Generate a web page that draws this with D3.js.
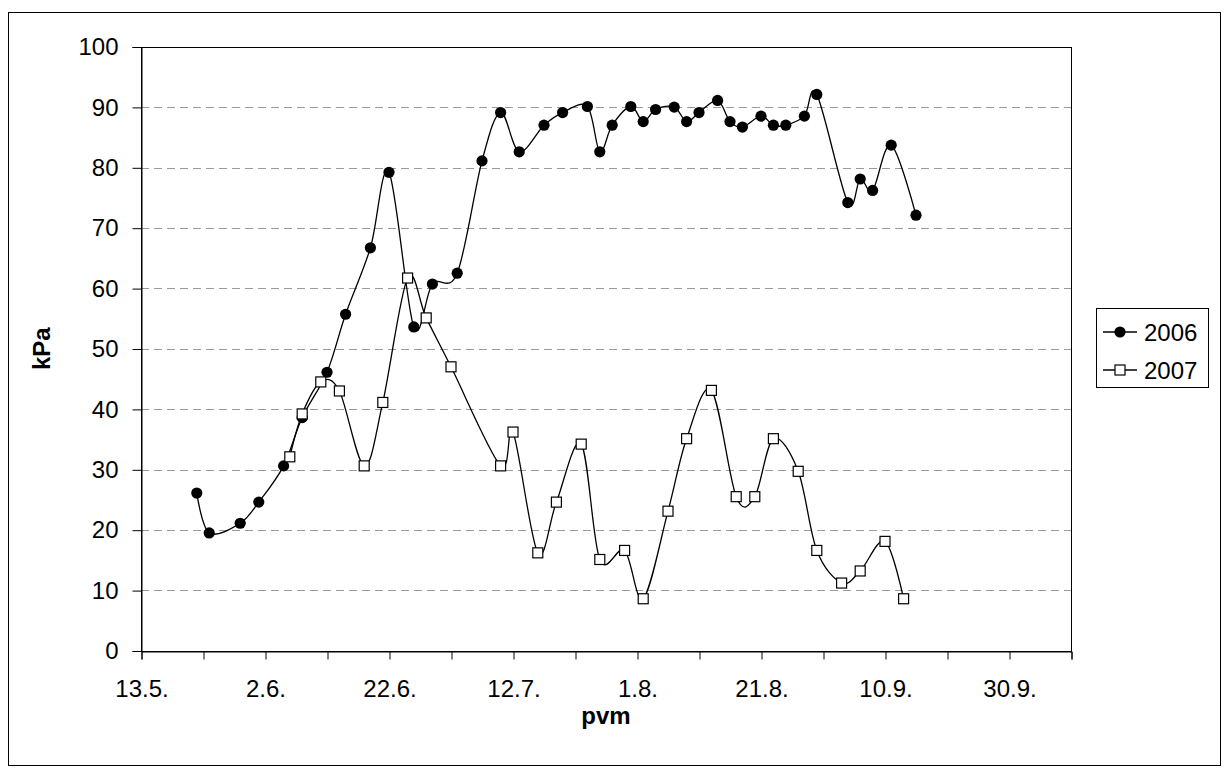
<!DOCTYPE html>
<html>
<head>
<meta charset="utf-8">
<script src="https://cdn.jsdelivr.net/npm/d3@7"></script>
<style>
  html, body { margin: 0; padding: 0; background: #fff; }
  svg { display: block; font-family: "Liberation Sans", Arial, sans-serif; }
</style>
</head>
<body>
<svg id="chart" width="1229" height="772"></svg>
<script>
// Measurement dates (day.month.) and pressure readings, kPa
const dates2006 = ["22.5.","24.5.","29.5.","1.6.","5.6.","8.6.","12.6.","15.6.","19.6.","22.6.",
  "26.6.","29.6.","3.7.","7.7.","10.7.","13.7.","17.7.","20.7.","24.7.","26.7.",
  "28.7.","31.7.","2.8.","4.8.","7.8.","9.8.","11.8.","14.8.","16.8.","18.8.",
  "21.8.","23.8.","25.8.","28.8.","30.8.","4.9.","6.9.","8.9.","11.9.","15.9."];
const values2006 = [26.1, 19.5, 21.1, 24.6, 30.6, 38.6, 46.1, 55.7, 66.7, 79.2,
  53.6, 60.7, 62.5, 81.1, 89.1, 82.6, 87.0, 89.1, 90.1, 82.6,
  87.0, 90.1, 87.6, 89.6, 90.0, 87.6, 89.1, 91.1, 87.6, 86.7,
  88.5, 87.0, 87.0, 88.5, 92.1, 74.2, 78.1, 76.2, 83.7, 72.1];

const dates2007 = ["6.6.","8.6.","11.6.","14.6.","18.6.","21.6.","25.6.","28.6.","2.7.","10.7.",
  "12.7.","16.7.","19.7.","23.7.","26.7.","30.7.","2.8.","6.8.","9.8.","13.8.",
  "17.8.","20.8.","23.8.","27.8.","30.8.","3.9.","6.9.","10.9.","13.9."];
const values2007 = [32.1, 39.2, 44.5, 43.0, 30.6, 41.1, 61.7, 55.1, 47.0, 30.6,
  36.2, 16.2, 24.6, 34.2, 15.1, 16.6, 8.6, 23.1, 35.1, 43.1,
  25.5, 25.5, 35.1, 29.7, 16.6, 11.2, 13.2, 18.1, 8.6];

const seriesNames = ["2006", "2007"];
const xStart = "13.5.", xEnd = "10.10.";
const xTickStepDays = 10;
const xTickLabels = ["13.5.","2.6.","22.6.","12.7.","1.8.","21.8.","10.9.","30.9."];
const yTicks = [0,10,20,30,40,50,60,70,80,90,100];
const xTitle = "pvm", yTitle = "kPa";

const parse = d3.timeParse("%d.%m.");
const fmt = d3.timeFormat("%-d.%-m.");

const svg = d3.select("#chart");
const plot = { left: 141, right: 1071, top: 46.7, bottom: 650.7 };

const x = d3.scaleTime().domain([parse(xStart), parse(xEnd)]).range([plot.left, plot.right]);
const y = d3.scaleLinear().domain([0, 100]).range([plot.bottom, plot.top]);

// Outer chart frame
svg.append("rect").attr("x", 8.5).attr("y", 12.5).attr("width", 1212).attr("height", 753)
  .attr("fill", "#fff").attr("stroke", "#000").attr("stroke-width", 1);

// Horizontal dashed gridlines
svg.append("g").selectAll("line").data(yTicks.filter(v => v > 0 && v < 100)).join("line")
  .attr("x1", plot.left).attr("x2", plot.right)
  .attr("y1", d => Math.round(y(d)) + 0.5).attr("y2", d => Math.round(y(d)) + 0.5)
  .attr("stroke", "#9a9a9a").attr("stroke-width", 1).attr("stroke-dasharray", "8,5");

// Plot area border
svg.append("rect").attr("x", plot.left + 0.5).attr("y", Math.round(plot.top) + 0.5)
  .attr("width", plot.right - plot.left).attr("height", Math.round(plot.bottom) - Math.round(plot.top))
  .attr("fill", "none").attr("stroke", "#000").attr("stroke-width", 1);

// Y axis
const yAxis = d3.axisLeft(y).tickValues(yTicks).tickSize(9).tickPadding(14).tickFormat(d3.format("d"));
const gy = svg.append("g").attr("transform", `translate(${plot.left + 0.5},0.3)`).call(yAxis);
gy.select(".domain").attr("stroke", "#000");
gy.selectAll("line").attr("stroke", "#000");
gy.selectAll("text").attr("font-size", 24).attr("fill", "#000")
  .attr("font-family", "'Liberation Sans', Arial, sans-serif");

// X axis: ticks every 10 days, labels every 20 days
const start = parse(xStart), end = parse(xEnd);
const tickDates = d3.range(0, d3.timeDay.count(start, end) + 1, xTickStepDays).map(k => d3.timeDay.offset(start, k));
const xAxis = d3.axisBottom(x).tickValues(tickDates).tickSize(8).tickPadding(20)
  .tickFormat(d => xTickLabels.includes(fmt(d)) ? fmt(d) : "");
const gx = svg.append("g").attr("transform", `translate(0.5,${Math.round(plot.bottom) + 0.5})`).call(xAxis);
gx.select(".domain").attr("stroke", "#000");
gx.selectAll("line").attr("stroke", "#000");
gx.selectAll("text").attr("font-size", 24).attr("fill", "#000")
  .attr("font-family", "'Liberation Sans', Arial, sans-serif");

// Axis titles
svg.append("text").attr("x", (plot.left + plot.right) / 2).attr("y", 724)
  .attr("text-anchor", "middle").attr("font-size", 24).attr("font-weight", "bold").text(xTitle);
svg.append("text").attr("transform", `translate(50,${(plot.top + plot.bottom) / 2}) rotate(-90)`)
  .attr("text-anchor", "middle").attr("font-size", 24).attr("font-weight", "bold").text(yTitle);

// Series
const s2006 = dates2006.map((d, i) => ({ date: parse(d), value: values2006[i] }));
const s2007 = dates2007.map((d, i) => ({ date: parse(d), value: values2007[i] }));
const line = d3.line().x(d => x(d.date)).y(d => y(d.value)).curve(d3.curveCardinal.tension(0));

function drawSeries(data, marker) {
  const g = svg.append("g");
  g.append("path").datum(data).attr("d", line).attr("fill", "none")
    .attr("stroke", "#000").attr("stroke-width", 1.3);
  if (marker === "circle") {
    g.selectAll("circle").data(data).join("circle")
      .attr("cx", d => x(d.date)).attr("cy", d => y(d.value)).attr("r", 5.6).attr("fill", "#000");
  } else {
    g.selectAll("rect").data(data).join("rect")
      .attr("x", d => x(d.date) - 5).attr("y", d => y(d.value) - 5)
      .attr("width", 10).attr("height", 10)
      .attr("fill", "#fff").attr("stroke", "#000").attr("stroke-width", 1.2);
  }
}
drawSeries(s2006, "circle");
drawSeries(s2007, "square");

// Legend
const lg = svg.append("g");
lg.append("rect").attr("x", 1096.5).attr("y", 308.5).attr("width", 112).attr("height", 79)
  .attr("fill", "#fff").attr("stroke", "#000").attr("stroke-width", 1);
const rows = [{ name: seriesNames[0], cy: 332, marker: "circle" }, { name: seriesNames[1], cy: 370, marker: "square" }];
rows.forEach(r => {
  lg.append("line").attr("x1", 1103).attr("x2", 1137).attr("y1", r.cy).attr("y2", r.cy)
    .attr("stroke", "#000").attr("stroke-width", 1.3);
  if (r.marker === "circle") {
    lg.append("circle").attr("cx", 1120).attr("cy", r.cy).attr("r", 5.6).attr("fill", "#000");
  } else {
    lg.append("rect").attr("x", 1115).attr("y", r.cy - 5).attr("width", 10).attr("height", 10)
      .attr("fill", "#fff").attr("stroke", "#000").attr("stroke-width", 1.2);
  }
  lg.append("text").attr("x", 1144).attr("y", r.cy + 8.5).attr("font-size", 24).text(r.name);
});
</script>
</body>
</html>
